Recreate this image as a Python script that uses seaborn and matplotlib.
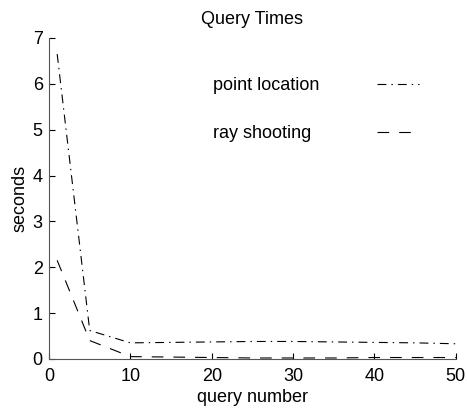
import matplotlib
matplotlib.use("Agg")
import matplotlib.pyplot as plt
import seaborn as sns
import pandas as pd

query_number = [1, 5, 10, 15, 20, 25, 30, 35, 40, 45, 50]
point_location = [6.65, 0.62, 0.35, 0.36, 0.37, 0.38, 0.38, 0.37, 0.36, 0.35, 0.33]
ray_shooting = [2.15, 0.40, 0.05, 0.04, 0.03, 0.02, 0.02, 0.02, 0.03, 0.03, 0.03]
series_names = ["point location", "ray shooting"]

sns.set_theme(style="ticks")
plt.rcParams['font.family'] = ['Liberation Sans', 'DejaVu Sans']
plt.rcParams['text.color'] = 'black'
plt.rcParams['axes.labelcolor'] = 'black'

df = pd.DataFrame({
    "query number": query_number * 2,
    "seconds": point_location + ray_shooting,
    "series": [series_names[0]] * len(query_number) + [series_names[1]] * len(query_number),
})

FS = 13
DPI = 100
fig = plt.figure(figsize=(4.67, 4.13), dpi=DPI)
ax = fig.add_axes([0.105, 0.131, 0.871, 0.777])

sns.lineplot(data=df, x="query number", y="seconds", hue="series", style="series",
             palette=["black", "black"],
             dashes={series_names[0]: (8, 4.5, 1.3, 4.5), series_names[1]: (10.5, 9)},
             linewidth=0.8, ax=ax)

ax.set_xlim(0, 50)
ax.set_ylim(0, 7)
ax.set_xticks([0, 10, 20, 30, 40, 50])
ax.set_yticks(range(8))
ax.tick_params(direction="in", length=4, width=0.8, labelsize=FS, colors="black")
ax.tick_params(axis="y", pad=4.5)
ax.tick_params(axis="x", pad=6.5)
for s in ["top", "right"]:
    ax.spines[s].set_visible(False)
for s in ["left", "bottom"]:
    ax.spines[s].set_linewidth(0.8)
    ax.spines[s].set_color("#555555")
ax.set_title("Query Times", fontsize=FS, pad=10, color="black")
ax.set_xlabel("query number", fontsize=FS, labelpad=3, color="black")
ax.set_ylabel("seconds", fontsize=FS, labelpad=3, color="black")

TPAD = 3.2
leg = ax.legend(loc="upper left", bbox_to_anchor=(0.403, 0.877), frameon=False,
                markerfirst=False, fontsize=FS, handlelength=2.3, handletextpad=TPAD,
                labelspacing=1.7, borderpad=0, borderaxespad=0)
for t in leg.get_texts():
    t.set_color("black")

# left-align label texts while keeping the line samples in one column
fig.canvas.draw()
renderer = fig.canvas.get_renderer()
widths = [t.get_window_extent(renderer).width for t in leg.get_texts()]
maxw = max(widths)
px_per_pt = DPI / 72.0
for col in leg._legend_handle_box.get_children():
    col.align = "left"
    for row, w in zip(col.get_children(), widths):
        row.sep = TPAD * FS + (maxw - w) / px_per_pt

fig.savefig("out.png", dpi=DPI, facecolor="white")
